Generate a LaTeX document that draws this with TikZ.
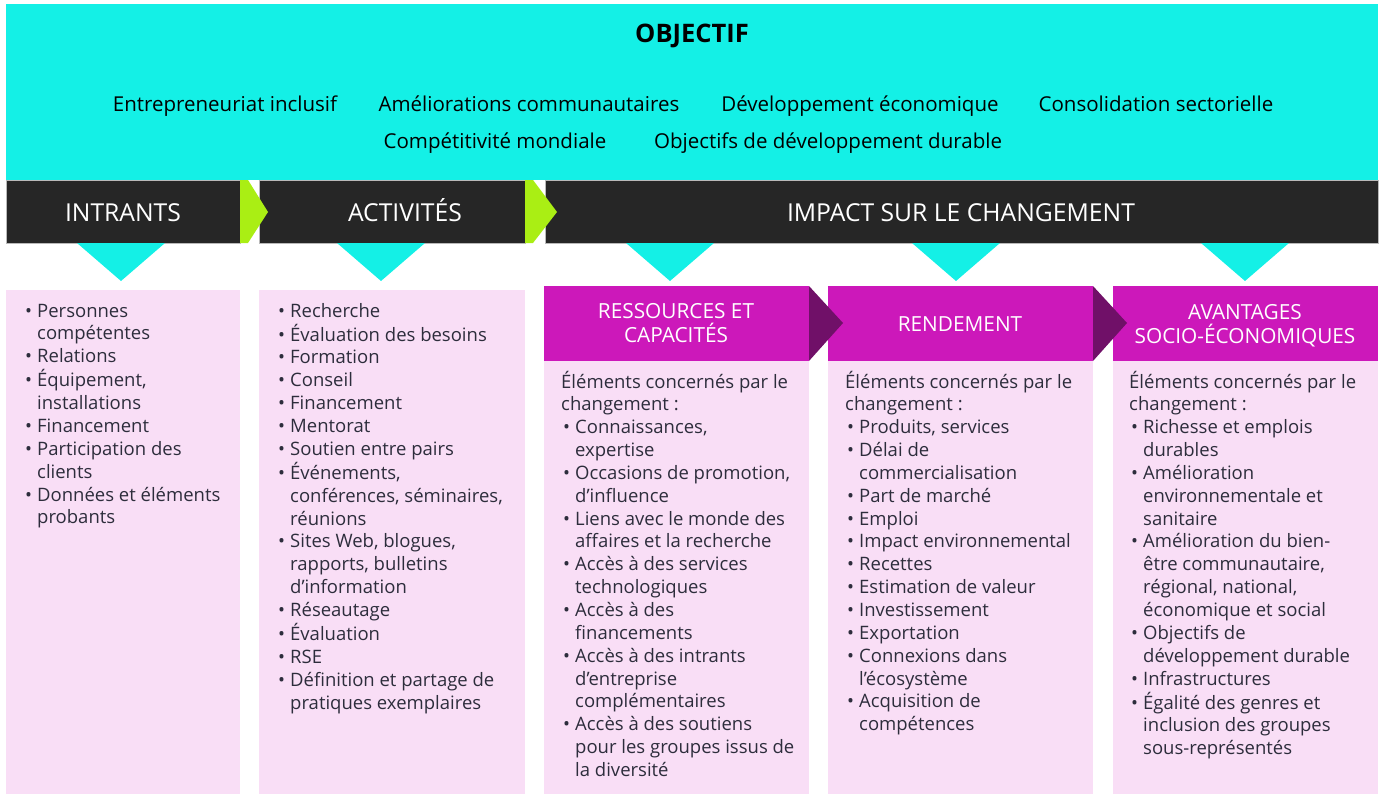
\documentclass[tikz,border=0pt]{standalone}
\usepackage{fontspec}
\setmainfont{Open Sans}
\definecolor{cyanbg}{RGB}{20,240,230}
\definecolor{darkbar}{RGB}{38,38,38}
\definecolor{limearrow}{RGB}{170,238,20}
\definecolor{magbar}{RGB}{204,24,186}
\definecolor{magarrow}{RGB}{112,16,104}
\definecolor{pinkbg}{RGB}{249,222,246}
\definecolor{bodytext}{RGB}{45,45,60}
% bullet helpers for the lists
\newlength{\bulw}\setlength{\bulw}{14pt}
\newcommand{\bul}{\makebox[\bulw][l]{\hspace{2pt}\textbullet}}
\newcommand{\ind}{\hspace*{\bulw}}
\begin{document}
\begin{tikzpicture}[x=1pt,y=-1pt,
  objtxt/.style={font=\fontsize{20.5}{24}\selectfont, text=black, anchor=base, inner sep=0pt},
  titletxt/.style={font=\bfseries\fontsize{25.5}{29}\selectfont, text=black, anchor=base, inner sep=0pt},
  bartxt/.style={font=\fontsize{24.7}{28}\selectfont, text=white, anchor=base, inner sep=0pt},
  hdtxt/.style={font=\fontsize{20.8}{24}\selectfont, text=white, anchor=base, inner sep=0pt},
  body/.style={font=\fontsize{18.5}{22.85}\selectfont, text=bodytext, anchor=base west, inner sep=0pt},
  bar/.style={fill=darkbar, draw=gray!55, line width=0.6pt},
  pointer/.style={fill=cyanbg}]
\useasboundingbox (0,0) rectangle (1382,795);

% objective band
\fill[cyanbg] (6,4) rectangle (1378,180);
\node[titletxt] (title) at (692,42.5) {OBJECTIF};
\node[objtxt] (o1) at (225,111) {Entrepreneuriat inclusif};
\node[objtxt] (o2) at (529,111) {Améliorations communautaires};
\node[objtxt] (o3) at (860,111) {Développement économique};
\node[objtxt] (o4) at (1156,111) {Consolidation sectorielle};
\node[objtxt] (o5) at (495,148) {Compétitivité mondiale};
\node[objtxt] (o6) at (828,148) {Objectifs de développement durable};

% dark stage bars
\path[bar] (6,180) rectangle (240,243);
\path[bar] (259,180) rectangle (525,243);
\path[bar] (545,180) rectangle (1378,243);
% lime arrows between stages
\fill[limearrow] (240,180) -- (248,180) -- (268,212) -- (248,243) -- (240,243) -- cycle;
\fill[limearrow] (525,180) -- (533,180) -- (557,212) -- (533,243) -- (525,243) -- cycle;
\node[bartxt] (intr) at (123,221) {INTRANTS};
\node[bartxt] (acti) at (405,221) {ACTIVITÉS};
\node[bartxt] (imp) at (961,221) {IMPACT SUR LE CHANGEMENT};

% cyan pointers under the bars
\foreach \cx in {121,381,670,956,1245}
  \fill[pointer] (\cx-44,243) -- (\cx+44,243) -- (\cx,281) -- cycle;

% pink content panels
\fill[pinkbg] (6,290) rectangle (240,794);
\fill[pinkbg] (259,290) rectangle (525,794);
\fill[pinkbg] (544,360) rectangle (809,794);
\fill[pinkbg] (828,360) rectangle (1093,794);
\fill[pinkbg] (1113,360) rectangle (1378,794);

% magenta sub-headers with dark arrows
\fill[magbar] (544,286) rectangle (809,361);
\fill[magbar] (828,286) rectangle (1093,361);
\fill[magbar] (1113,286) rectangle (1378,361);
\fill[magarrow] (809,286) -- (843,323) -- (809,361) -- cycle;
\fill[magarrow] (1093,286) -- (1127,323) -- (1093,361) -- cycle;
\node[hdtxt] (h1a) at (676,318) {RESSOURCES ET};
\node[hdtxt] (h1b) at (676,342.5) {CAPACITÉS};
\node[hdtxt] (h2) at (960,331.5) {RENDEMENT};
\node[hdtxt] (h3a) at (1245,319) {AVANTAGES};
\node[hdtxt] (h3b) at (1245,343) {SOCIO-ÉCONOMIQUES};

% lists
\node[body] (l1) at (23,317) {\begin{tabular}[t]{@{}l@{}}
\bul Personnes\\
\ind compétentes\\
\bul Relations\\
\bul Équipement,\\
\ind installations\\
\bul Financement\\
\bul Participation des\\
\ind clients\\
\bul Données et éléments\\
\ind probants
\end{tabular}};

\node[body] (l2) at (276,317) {\begin{tabular}[t]{@{}l@{}}
\bul Recherche\\
\bul Évaluation des besoins\\
\bul Formation\\
\bul Conseil\\
\bul Financement\\
\bul Mentorat\\
\bul Soutien entre pairs\\
\bul Événements,\\
\ind conférences, séminaires,\\
\ind réunions\\
\bul Sites Web, blogues,\\
\ind rapports, bulletins\\
\ind d’information\\
\bul Réseautage\\
\bul Évaluation\\
\bul RSE\\
\bul Définition et partage de\\
\ind pratiques exemplaires
\end{tabular}};

\node[body] (l3) at (561,388) {\begin{tabular}[t]{@{}l@{}}
Éléments concernés par le\\
changement :\\
\bul Connaissances,\\
\ind expertise\\
\bul Occasions de promotion,\\
\ind d’influence\\
\bul Liens avec le monde des\\
\ind affaires et la recherche\\
\bul Accès à des services\\
\ind technologiques\\
\bul Accès à des\\
\ind financements\\
\bul Accès à des intrants\\
\ind d’entreprise\\
\ind complémentaires\\
\bul Accès à des soutiens\\
\ind pour les groupes issus de\\
\ind la diversité
\end{tabular}};

\node[body] (l4) at (845,388) {\begin{tabular}[t]{@{}l@{}}
Éléments concernés par le\\
changement :\\
\bul Produits, services\\
\bul Délai de\\
\ind commercialisation\\
\bul Part de marché\\
\bul Emploi\\
\bul Impact environnemental\\
\bul Recettes\\
\bul Estimation de valeur\\
\bul Investissement\\
\bul Exportation\\
\bul Connexions dans\\
\ind l’écosystème\\
\bul Acquisition de\\
\ind compétences
\end{tabular}};

\node[body] (l5) at (1129,388) {\begin{tabular}[t]{@{}l@{}}
Éléments concernés par le\\
changement :\\
\bul Richesse et emplois\\
\ind durables\\
\bul Amélioration\\
\ind environnementale et\\
\ind sanitaire\\
\bul Amélioration du bien-\\
\ind être communautaire,\\
\ind régional, national,\\
\ind économique et social\\
\bul Objectifs de\\
\ind développement durable\\
\bul Infrastructures\\
\bul Égalité des genres et\\
\ind inclusion des groupes\\
\ind sous-représentés
\end{tabular}};
\end{tikzpicture}
\end{document}
